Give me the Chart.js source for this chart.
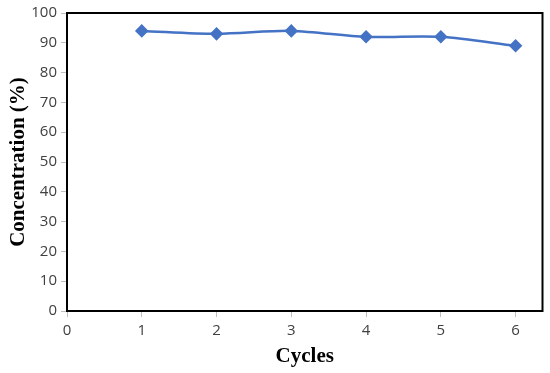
<!DOCTYPE html>
<html>
<head>
<meta charset="utf-8">
<script src="https://cdn.jsdelivr.net/npm/chart.js@4"></script>
<style>
  body { margin: 0; background: #fff; }
  #wrap { width: 550px; height: 373px; }
</style>
</head>
<body>
<div id="wrap"><canvas id="myChart"></canvas></div>
<script>
var cycles = [1, 2, 3, 4, 5, 6];
var concentration = [94, 93, 94, 92, 92, 89];
var xTicks = [0, 1, 2, 3, 4, 5, 6];

// box round the plot area, like the Excel frame
var frame = {
    id: 'frame',
    afterDraw: function (chart) {
        var a = chart.chartArea, c = chart.ctx;
        c.save();
        c.strokeStyle = '#000';
        c.lineWidth = 2;
        c.strokeRect(a.left, a.top, a.right - a.left, a.bottom - a.top);
        c.restore();
    }
};

var ctx = document.getElementById('myChart').getContext('2d');
var myChart = new Chart(ctx, {
    type: 'line',
    data: {
        datasets: [{
            data: cycles.map(function (c, i) { return { x: c, y: concentration[i] }; }),
            borderColor: '#4472C4',
            backgroundColor: '#4472C4',
            borderWidth: 2.5,
            tension: 0.3,
            pointStyle: 'rectRot',
            pointRadius: 5,
            pointHoverRadius: 5
        }]
    },
    options: {
        responsive: true,
        maintainAspectRatio: false,
        animation: false,
        layout: { padding: { top: 10, right: 6, left: 2, bottom: 0 } },
        plugins: { legend: { display: false }, tooltip: { enabled: false } },
        scales: {
            x: {
                type: 'linear',
                min: 0,
                max: 6.36,
                afterBuildTicks: function (s) {
                    s.ticks = xTicks.map(function (v) { return { value: v }; });
                },
                afterFit: function (s) { s.height = 62; },
                grid: { drawOnChartArea: false, drawTicks: true, tickLength: 6, color: '#bfbfbf' },
                border: { color: '#000', width: 2 },
                ticks: { color: '#404040', font: { family: 'Open Sans', size: 15 }, padding: 5 },
                title: {
                    display: true,
                    text: 'Cycles',
                    color: '#000',
                    font: { family: 'Liberation Serif', size: 21, weight: 'bold' },
                    padding: { top: 6 }
                }
            },
            y: {
                min: 0,
                max: 100,
                afterFit: function (s) { s.width = 65; },
                grid: { drawOnChartArea: false, drawTicks: true, tickLength: 6, color: '#bfbfbf' },
                border: { color: '#000', width: 2 },
                ticks: { stepSize: 10, color: '#404040', font: { family: 'Open Sans', size: 15 }, padding: 4 },
                title: {
                    display: true,
                    text: 'Concentration (%)',
                    color: '#000',
                    font: { family: 'Liberation Serif', size: 21, weight: 'bold' },
                    padding: { bottom: 0 }
                }
            }
        }
    },
    plugins: [frame]
});
</script>
</body>
</html>
